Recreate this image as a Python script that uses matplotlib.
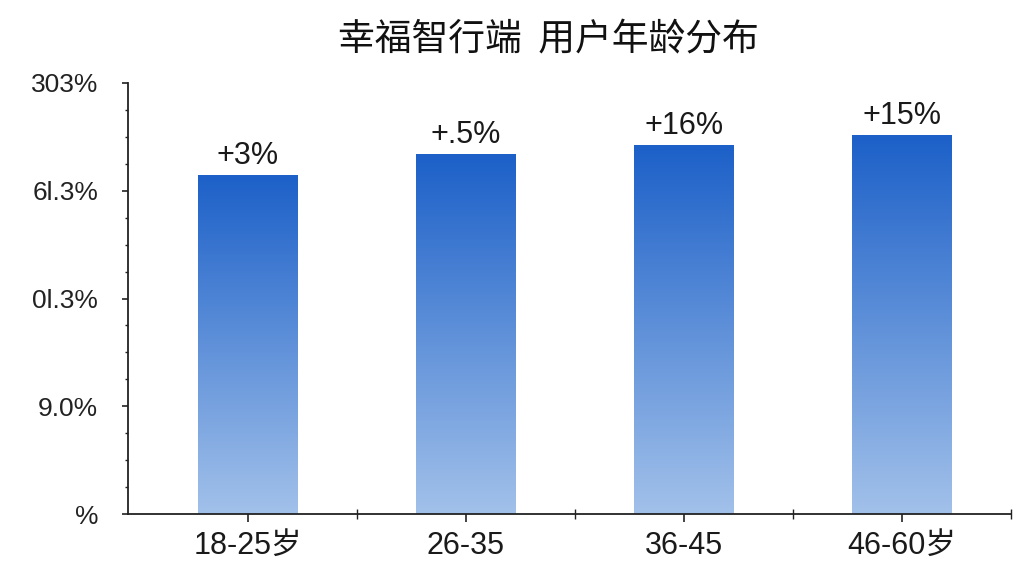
import numpy as np
import matplotlib
matplotlib.use("Agg")
import matplotlib.pyplot as plt
from matplotlib.colors import LinearSegmentedColormap

categories = ["18-25岁", "26-35", "36-45", "46-60岁"]
values = [78.7, 83.5, 85.6, 87.9]
bar_labels = ["+3%", "+.5%", "+16%", "+15%"]
ytick_values = [0, 25, 50, 75, 100]
ytick_labels = ["%", "9.0%", "0l.3%", "6l.3%", "303%"]
title = "幸福智行端  用户年龄分布"

plt.rcParams['font.family'] = ['Liberation Sans', 'Noto Sans CJK SC', 'DejaVu Sans']

fig = plt.figure(figsize=(10.24, 5.76), dpi=100)
ax = fig.add_axes([128/1024, 1-514/576, (1011-128)/1024, (514-83)/576])

x = np.arange(len(categories))
bars = ax.bar(x, values, width=0.455, color='none', edgecolor='none', zorder=2)

cmap = LinearSegmentedColormap.from_list("bg", ["#a2c1ea", "#1c60c8"])
grad = np.linspace(0, 1, 256).reshape(-1, 1)
for b in bars:
    x0, y0 = b.get_x(), b.get_y()
    w, h = b.get_width(), b.get_height()
    im = ax.imshow(grad, extent=[x0, x0 + w, y0, y0 + h], origin='lower',
                   cmap=cmap, aspect='auto', zorder=2)
    im.set_clip_path(b)

for xi, v, lab in zip(x, values, bar_labels):
    ax.annotate(lab, (xi, v), xytext=(0, 3), textcoords='offset points',
                ha='center', va='bottom', fontsize=22, color='#1a1a1a')

ax.set_xlim(-0.55, 3.5)
ax.set_ylim(0, 100)

ax.set_yticks(ytick_values)
ax.set_yticklabels(ytick_labels, fontsize=19, color='#222222')
ax.set_yticks(np.arange(0, 100.1, 6.25), minor=True)
ax.tick_params(axis='y', which='major', length=4.5, width=1.2, color='#222222', pad=17)
ax.tick_params(axis='y', which='minor', length=2.5, width=1.0, color='#222222')

ax.set_xticks(x)
ax.set_xticklabels(categories, fontsize=22, color='#1a1a1a')
ax.set_xticks([0.5, 1.5, 2.5, 3.5], minor=True)
ax.tick_params(axis='x', which='major', length=6, width=1.2, color='#222222', pad=6)
ax.tick_params(axis='x', which='minor', length=7, width=1.0, direction='inout', color='#222222')

for s in ['top', 'right']:
    ax.spines[s].set_visible(False)
for s in ['left', 'bottom']:
    ax.spines[s].set_color('#222222')
    ax.spines[s].set_linewidth(1.3)

fig.text(548/1024, 1-40/576, title, ha='center', va='center', fontsize=26.5,
         color='#111111', family=['Noto Sans CJK SC', 'DejaVu Sans'])

fig.savefig("out.png", dpi=100, facecolor='white')
